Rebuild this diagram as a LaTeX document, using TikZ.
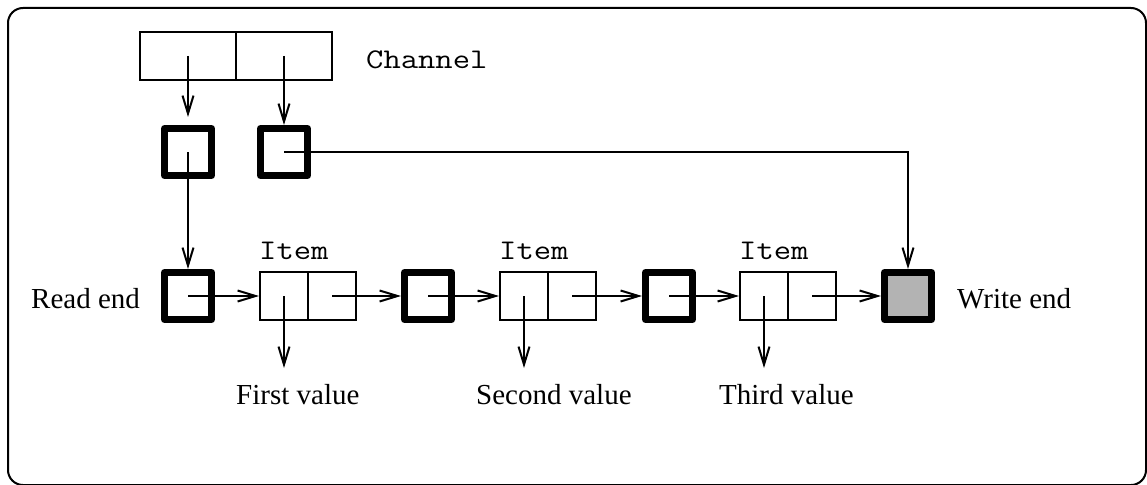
\documentclass[tikz,border=0pt]{standalone}
\usepackage{fontspec}
\setmainfont{Liberation Serif}
\newfontfamily\monofont[FakeStretch=1.18]{Latin Modern Mono}
\usetikzlibrary{arrows.meta}
\definecolor{fillgray}{RGB}{179,179,179}
\begin{document}
\begin{tikzpicture}[x=1pt,y=-1pt,
  tbox/.style={draw, line width=7pt, line join=round, minimum size=47pt, inner sep=0pt},
  cell/.style={draw, line width=2pt, minimum width=48pt, minimum height=48pt, inner sep=0pt},
  ccell/.style={draw, line width=2pt, minimum width=96pt, minimum height=48pt, inner sep=0pt},
  arr/.style={line width=2pt, -{Straight Barb[length=18pt,width=11pt]}},
  lbl/.style={font=\fontsize{29}{34}\selectfont, inner sep=0pt, anchor=base west},
  mono/.style={font=\monofont\fontsize{28.5}{34}\selectfont, inner sep=0pt, anchor=base west}]
\useasboundingbox (0,0) rectangle (1147,484);
\draw[line width=2pt, rounded corners=15pt] (8,8) rectangle (1146,485);

% channel
\node[ccell] (c1) at (188,56) {};
\node[ccell] (c2) at (284,56) {};
\node[mono] (chl) at (366,69) {Channel};

% pointer boxes
\node[tbox] (bA) at (188,152) {};
\node[tbox] (bB) at (284,152) {};
\node[tbox] (rd) at (188,296) {};
\node[tbox] (m1) at (428,296) {};
\node[tbox] (m2) at (669,296) {};
\node[tbox, fill=fillgray] (we) at (908,296) {};

% items
\node[cell] (i1a) at (284,296) {};
\node[cell] (i1b) at (332,296) {};
\node[cell] (i2a) at (524,296) {};
\node[cell] (i2b) at (572,296) {};
\node[cell] (i3a) at (764,296) {};
\node[cell] (i3b) at (812,296) {};

\node[mono] (t1) at (259,259) {Item};
\node[mono] (t2) at (499,259) {Item};
\node[mono] (t3) at (739,259) {Item};

% labels
\node[lbl] (rdl) at (31,308) {Read end};
\node[lbl] (wel) at (957,308) {Write end};
\node[lbl] (v1l) at (236,404) {First value};
\node[lbl] (v2l) at (476,404) {Second value};
\node[lbl] (v3l) at (719,404) {Third value};

\coordinate (v1) at (284,368);
\coordinate (v2) at (524,368);
\coordinate (v3) at (764,368);

% connectors
\draw[arr, shorten >=8pt] (c1.center) -- (bA.north);
\draw[arr] (c2.center) -- (bB.north);
\draw[arr] (bA.center) -- (rd.north);
\draw[arr] (bB.center) -| (we.north);
\draw[arr] (rd.center) -- (i1a.west);
\draw[arr] (i1b.center) -- (m1.west);
\draw[arr] (m1.center) -- (i2a.west);
\draw[arr] (i2b.center) -- (m2.west);
\draw[arr] (m2.center) -- (i3a.west);
\draw[arr] (i3b.center) -- (we.west);
\draw[arr] (i1a.center) -- (v1);
\draw[arr] (i2a.center) -- (v2);
\draw[arr] (i3a.center) -- (v3);
\end{tikzpicture}
\end{document}
